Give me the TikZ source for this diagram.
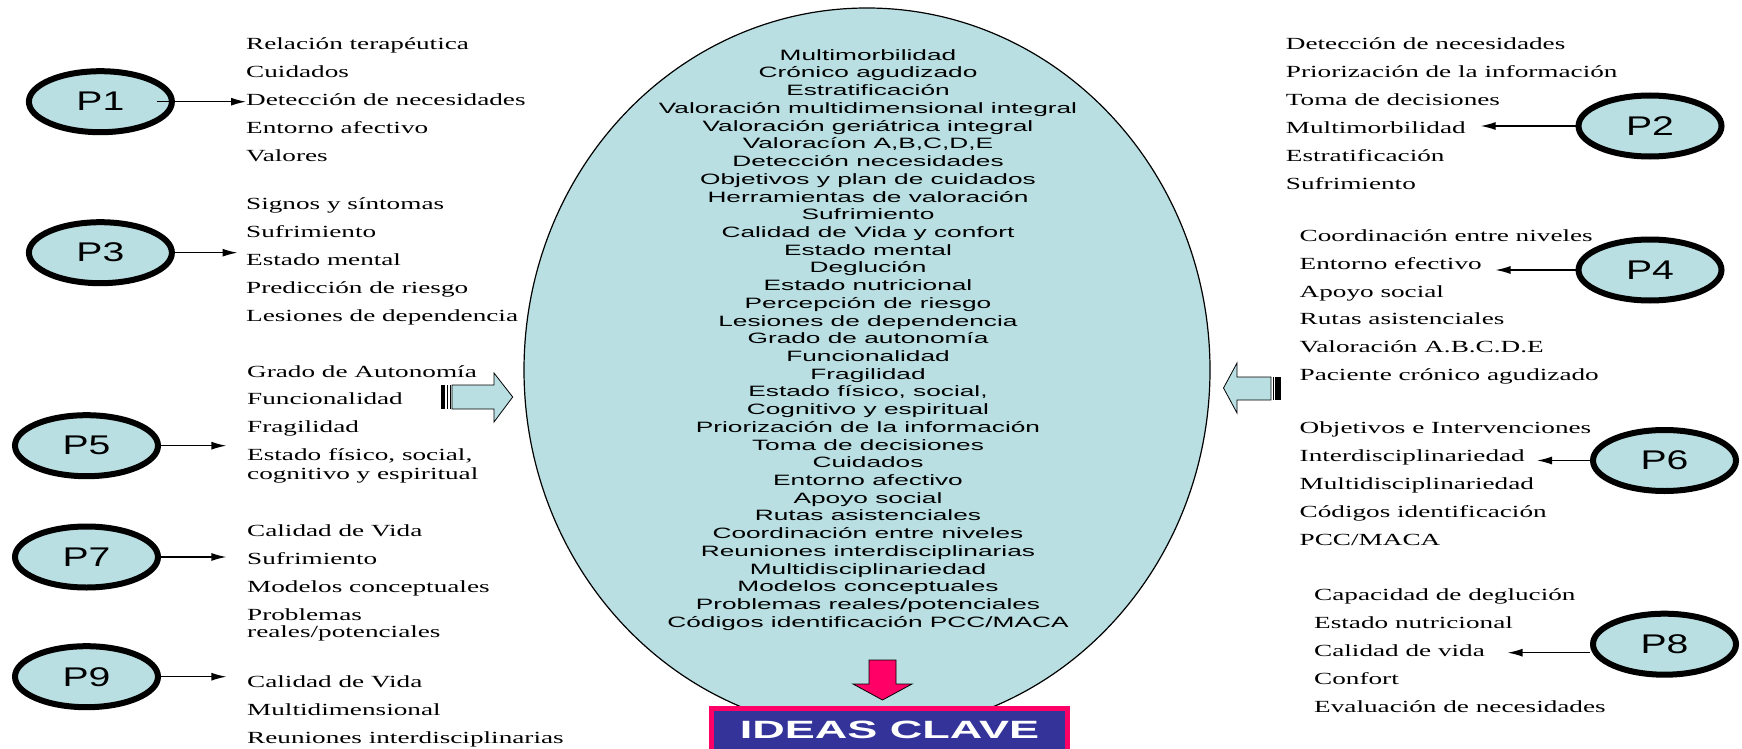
\documentclass[tikz,border=0pt]{standalone}
\usepackage{fontspec}
\setmainfont{Liberation Serif}
\newfontfamily\listfont[FakeStretch=1.6]{Liberation Serif}
\newfontfamily\cenfont[FakeStretch=1.75]{Liberation Sans}
\newfontfamily\pfont[FakeStretch=1.45]{Liberation Sans}
\newfontfamily\clavefont[FakeStretch=1.8]{Liberation Sans}
\usepackage{tikz}
\usetikzlibrary{arrows.meta,shapes.geometric}
\definecolor{agua}{RGB}{185,223,227}
\definecolor{rosa}{RGB}{255,0,102}
\definecolor{azul}{RGB}{51,51,153}

\begin{document}
\begin{tikzpicture}[
            x = 1pt, y = -1pt, % pixel grid, y going down
            > = {Latex[length=15pt,width=8pt]}, % arrow head style
            pregunta/.style = {ellipse, draw, line width=6pt, fill=agua, minimum width=143pt, minimum height=61pt, inner sep=0pt, font=\pfont\fontsize{27pt}{30pt}\selectfont},
            lista/.style = {anchor=base west, align=left, inner sep=0pt, font=\listfont\fontsize{17pt}{27.9pt}\selectfont}, % placed at last baseline
            flecha/.style = {->, line width=1.3pt},
            bloque/.style = {draw, line width=0.8pt, fill=agua}
        ]
	\useasboundingbox (0,0) rectangle (1742,749);

	% central ellipse
	\node[ellipse, draw, line width=1.2pt, fill=agua, minimum width=686pt, minimum height=724pt] (centro) at (867,370) {};
	\node[anchor=base, align=center, inner sep=0pt, font=\cenfont\fontsize{15pt}{17.72pt}\selectfont] (ideas) at (868,627.3) {Multimorbilidad\\Crónico agudizado\\Estratificación\\Valoración multidimensional integral\\Valoración geriátrica integral\\Valoracíon A,B,C,D,E\\Detección necesidades\\Objetivos y plan de cuidados\\Herramientas de valoración\\Sufrimiento\\Calidad de Vida y confort\\Estado mental\\Deglución\\Estado nutricional\\Percepción de riesgo\\Lesiones de dependencia\\Grado de autonomía\\Funcionalidad\\Fragilidad\\Estado físico, social,\\Cognitivo y espiritual\\Priorización de la información\\Toma de decisiones\\Cuidados\\Entorno afectivo\\Apoyo social\\Rutas asistenciales\\Coordinación entre niveles\\Reuniones interdisciplinarias\\Multidisciplinariedad\\Modelos conceptuales\\Problemas reales/potenciales\\Códigos identificación PCC/MACA};

	% block arrows
	\draw[bloque] (452,385) -- (494,385) -- (494,373) -- (512.7,397) -- (494,422) -- (494,409) -- (452,409) -- cycle;
	\fill (441,385) rectangle (445,409);
	\fill (446.5,385) rectangle (448,409);
	\fill (449.5,385) rectangle (450.5,409);
	\draw[bloque] (1271,377) -- (1237,377) -- (1237,363) -- (1223.5,388) -- (1237,413) -- (1237,400) -- (1271,400) -- cycle;
	\fill (1272.5,377) rectangle (1273.5,400);
	\fill (1275,377) rectangle (1276.5,400);
	\fill (1277,377) rectangle (1281,400);
	\draw[line width=0.8pt, fill=rosa] (869,660) -- (896,660) -- (896,684) -- (912,684) -- (882.5,700) -- (853,684) -- (869,684) -- cycle;

	\node[draw=rosa, line width=5pt, fill=azul, text=white, minimum width=356pt, minimum height=43.5pt, inner sep=0pt, font=\clavefont\bfseries\fontsize{25pt}{27pt}\selectfont] (clave) at (889.5,730.25) {IDEAS CLAVE};

	% questions
	\node[pregunta] (p1) at (100.4,101.7) {P1};
	\node[pregunta] (p3) at (100.4,252.7) {P3};
	\node[pregunta] (p5) at (86.5,445.7) {P5};
	\node[pregunta] (p7) at (86.5,557) {P7};
	\node[pregunta] (p9) at (86.5,676.7) {P9};
	\node[pregunta] (p2) at (1650,126) {P2};
	\node[pregunta] (p4) at (1650,270) {P4};
	\node[pregunta] (p6) at (1664.5,460.5) {P6};
	\node[pregunta] (p8) at (1664.5,644.2) {P8};

	% answers
	\node[lista] (l1) at (246,161) {Relación terapéutica\\Cuidados\\Detección de necesidades\\Entorno afectivo\\Valores};
	\node[lista] (l3) at (246,321) {Signos y síntomas\\Sufrimiento\\Estado mental\\Predicción de riesgo\\Lesiones de dependencia};
	\node[lista] (l5) at (247,479.3) {Grado de Autonomía\\Funcionalidad\\Fragilidad\\Estado físico, social,\\[-9.3pt]cognitivo y espiritual};
	\node[lista] (l7) at (247,637.7) {Calidad de Vida\\Sufrimiento\\Modelos conceptuales\\Problemas\\[-10.2pt]reales/potenciales};
	\node[lista] (l9) at (247,743) {Calidad de Vida\\Multidimensional\\Reuniones interdisciplinarias};
	\node[lista] (l2) at (1285.7,189) {Detección de necesidades\\Priorización de la información\\Toma de decisiones\\Multimorbilidad\\Estratificación\\Sufrimiento};
	\node[lista] (l4) at (1299.5,380.7) {Coordinación entre niveles\\Entorno efectivo\\Apoyo social\\Rutas asistenciales\\Valoración A.B.C.D.E\\Paciente crónico agudizado};
	\node[lista] (l6) at (1299.5,545) {Objetivos e Intervenciones\\Interdisciplinariedad\\Multidisciplinariedad\\Códigos identificación\\PCC/MACA};
	\node[lista] (l8) at (1314,712.3) {Capacidad de deglución\\Estado nutricional\\Calidad de vida\\Confort\\Evaluación de necesidades};

	% arrow tips
	\coordinate (t1) at (246,101.7);
	\coordinate (t3) at (237.5,252.7);
	\coordinate (t5) at (226.4,445.7);
	\coordinate (t7) at (226.4,557);
	\coordinate (t9) at (226.4,676.7);
	\coordinate (t2) at (1480.7,126);
	\coordinate (t4) at (1495.5,270);
	\coordinate (t6) at (1537,460.5);
	\coordinate (t8) at (1507.6,652.7);

	\draw[flecha, shorten <=-18pt] (p1.east) -- (t1);
	\draw[flecha] (p3.east) -- (t3);
	\draw[flecha] (p5.east) -- (t5);
	\draw[flecha] (p7.east) -- (t7);
	\draw[flecha] (p9.east) -- (t9);
	\draw[flecha] (p2.west) -- (t2);
	\draw[flecha] (p4.west) -- (t4);
	\draw[flecha] (p6.west) -- (t6);
	\draw[flecha] (p8.west |- t8) -- (t8);

\end{tikzpicture}
\end{document}
